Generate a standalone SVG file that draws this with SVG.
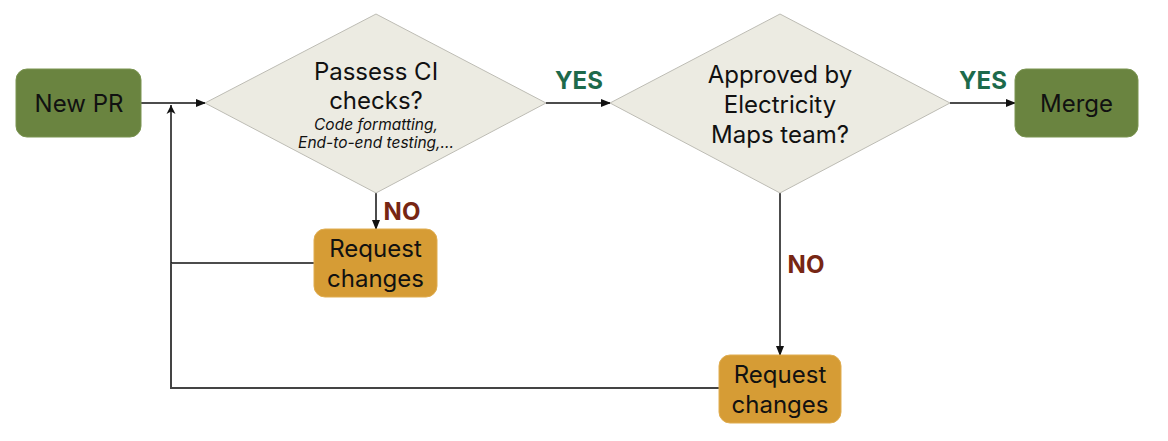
<svg xmlns="http://www.w3.org/2000/svg" width="1168" height="441" viewBox="0 0 1168 441">
<style>
.t{font-family:Inter,"Noto Sans","Liberation Sans",sans-serif;fill:#111;text-anchor:middle}
.m{font-size:24px}
.s{font-size:15.5px;font-style:italic}
.g{fill:#6a8440;stroke:#7a9450;stroke-width:1}
.y{fill:#d69c35;stroke:#e0ad50;stroke-width:1}
.d{fill:#ecebe2;stroke:#bdbcb4;stroke-width:1}
.yes{font-family:Inter,"Noto Sans","Liberation Sans",sans-serif;font-weight:700;font-size:24px;fill:#1d6a4b}
.no{font-family:Inter,"Noto Sans","Liberation Sans",sans-serif;font-weight:700;font-size:24px;fill:#772613}
.c{fill:none;stroke:#111;stroke-width:1.5}
</style>
<defs>
<marker id="a" markerWidth="10" markerHeight="8" refX="9" refY="4" orient="auto" markerUnits="userSpaceOnUse">
<path d="M0,0 L10,4 L0,8 Z" fill="#111"/>
</marker>
<marker id="u" markerWidth="10" markerHeight="10" refX="9" refY="5" orient="auto" markerUnits="userSpaceOnUse">
<path d="M0,0.5 L9,5 L0,9.5 L2.5,5 Z" fill="#111"/>
</marker>
</defs>
<g id="connectors">
<line class="c" x1="141" y1="103" x2="205" y2="103" marker-end="url(#a)"/>
<line class="c" x1="546" y1="103" x2="610" y2="103" marker-end="url(#a)"/>
<line class="c" x1="950" y1="103" x2="1015" y2="103" marker-end="url(#a)"/>
<line class="c" x1="376" y1="193" x2="376" y2="229" marker-end="url(#a)"/>
<line class="c" x1="780" y1="193" x2="780" y2="355" marker-end="url(#a)"/>
<polyline class="c" points="314,263 171,263"/>
<polyline class="c" style="stroke:#444;stroke-width:2" points="719,388 171,388 171,263"/>
<line class="c" x1="171" y1="263" x2="171" y2="105" marker-end="url(#u)"/>
<text class="yes" x="579" y="89" text-anchor="middle">YES</text>
<text class="yes" x="983" y="89" text-anchor="middle">YES</text>
<text class="no" x="402" y="220" text-anchor="middle">NO</text>
<text class="no" x="806" y="273" text-anchor="middle">NO</text>
</g>
<g id="new-pr">
<rect class="g" x="16" y="69" width="125" height="68" rx="11"/>
<text class="t m" x="79" y="112">New PR</text>
</g>
<g id="ci-check">
<polygon class="d" points="376,14 546,103 376,193 205,103"/>
<text class="t m" x="376" y="80">Passess CI</text>
<text class="t m" x="376" y="109">checks?</text>
<text class="t s" x="376" y="130">Code formatting,</text>
<text class="t s" x="376" y="148">End-to-end testing,...</text>
</g>
<g id="approved">
<polygon class="d" points="780,14 950,103 780,193 610,103"/>
<text class="t m" x="780" y="83">Approved by</text>
<text class="t m" x="780" y="113">Electricity</text>
<text class="t m" x="780" y="143">Maps team?</text>
</g>
<g id="merge">
<rect class="g" x="1015" y="69" width="123" height="68" rx="11"/>
<text class="t m" x="1076.5" y="112">Merge</text>
</g>
<g id="request-changes-1">
<rect class="y" x="314" y="229" width="123" height="68" rx="11"/>
<text class="t m" x="375.5" y="257">Request</text>
<text class="t m" x="375.5" y="287">changes</text>
</g>
<g id="request-changes-2">
<rect class="y" x="719" y="355" width="122" height="68" rx="11"/>
<text class="t m" x="780" y="383">Request</text>
<text class="t m" x="780" y="413">changes</text>
</g>
</svg>
